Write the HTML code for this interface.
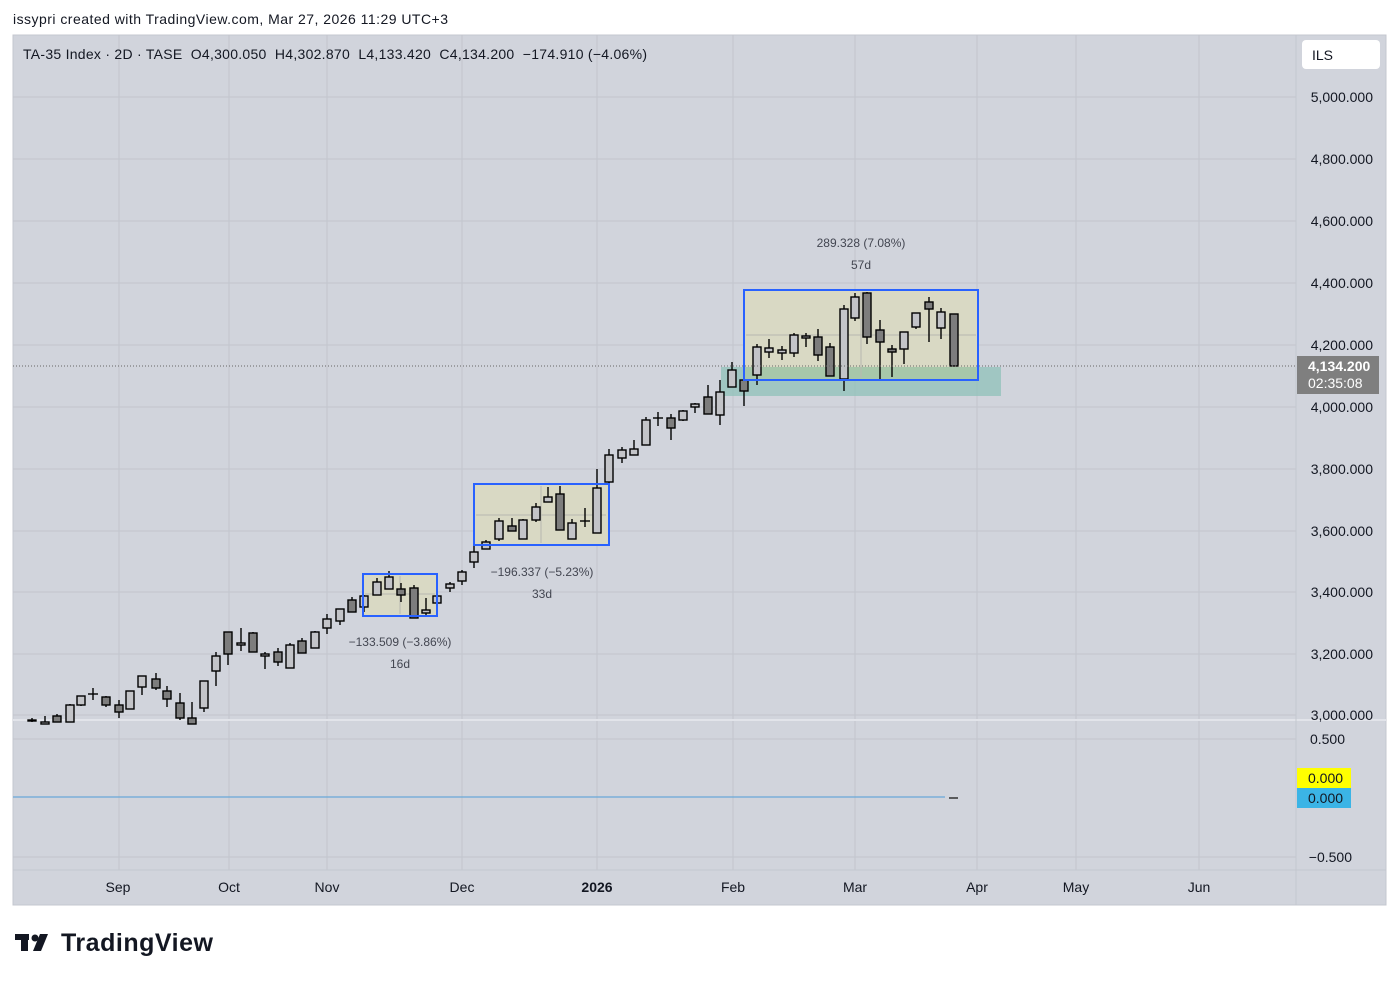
<!DOCTYPE html>
<html><head><meta charset="utf-8"><style>
body{margin:0;width:1399px;height:980px;background:#fff;overflow:hidden;font-family:"Liberation Sans",sans-serif}
</style></head><body>
<svg width="1399" height="980" xmlns="http://www.w3.org/2000/svg" font-family="Liberation Sans, sans-serif">
<text x="13" y="24" font-size="14" fill="#131722" textLength="435">issypri created with TradingView.com, Mar 27, 2026 11:29 UTC+3</text>
<rect x="13" y="35" width="1373" height="870" fill="#d1d4dc"/>
<rect x="13" y="35" width="1373" height="870" fill="none" stroke="#c4c7cf"/>
<g stroke="#c2c5cd" stroke-width="1">
<line x1="13" y1="97" x2="1296" y2="97"/><line x1="13" y1="159" x2="1296" y2="159"/><line x1="13" y1="221" x2="1296" y2="221"/><line x1="13" y1="283" x2="1296" y2="283"/><line x1="13" y1="345" x2="1296" y2="345"/><line x1="13" y1="407" x2="1296" y2="407"/><line x1="13" y1="469" x2="1296" y2="469"/><line x1="13" y1="531" x2="1296" y2="531"/><line x1="13" y1="592" x2="1296" y2="592"/><line x1="13" y1="654" x2="1296" y2="654"/><line x1="13" y1="715" x2="1296" y2="715"/>
<line x1="13" y1="739" x2="1296" y2="739"/><line x1="13" y1="857" x2="1296" y2="857"/>
<line x1="119" y1="35" x2="119" y2="870"/><line x1="229" y1="35" x2="229" y2="870"/><line x1="327" y1="35" x2="327" y2="870"/><line x1="462" y1="35" x2="462" y2="870"/><line x1="597" y1="35" x2="597" y2="870"/><line x1="733" y1="35" x2="733" y2="870"/><line x1="855" y1="35" x2="855" y2="870"/><line x1="977" y1="35" x2="977" y2="870"/><line x1="1076" y1="35" x2="1076" y2="870"/><line x1="1199" y1="35" x2="1199" y2="870"/>
</g>
<line x1="13" y1="720" x2="1386" y2="720" stroke="#e2e4ea" stroke-width="2"/>
<line x1="13" y1="870" x2="1386" y2="870" stroke="#c4c7cf"/>
<line x1="1296" y1="35" x2="1296" y2="905" stroke="#c4c7cf"/>
<rect x="721" y="367" width="280" height="29" fill="#8fc2b9" opacity="0.75"/>
<rect x="363" y="574" width="74" height="42" fill="#d9d9c4"/>
<rect x="474" y="484" width="135" height="61" fill="#d9d9c4"/>
<rect x="744" y="290" width="234" height="77" fill="#d9d9c4"/>
<rect x="744" y="367" width="234" height="13" fill="#a7c7aa"/>
<g stroke="#b8b8b0" fill="none"><line x1="476" y1="515" x2="606" y2="515"/><line x1="541" y1="486" x2="541" y2="543"/><line x1="746" y1="335" x2="976" y2="335"/><line x1="861" y1="292" x2="861" y2="378"/><line x1="365" y1="594" x2="435" y2="594"/><line x1="400" y1="576" x2="400" y2="614"/></g>
<g stroke="#000" stroke-width="1.4">
<line x1="32" y1="718" x2="32" y2="722"/><rect x="28" y="720" width="8" height="1" fill="#c3c4c8"/>
<line x1="45" y1="716" x2="45" y2="724"/><rect x="41" y="722" width="8" height="2" fill="#c3c4c8"/>
<line x1="57" y1="714" x2="57" y2="722"/><rect x="53" y="716" width="8" height="6" fill="#7d7d7d"/>
<line x1="70" y1="704" x2="70" y2="722"/><rect x="66" y="705" width="8" height="17" fill="#c3c4c8"/>
<line x1="81" y1="696" x2="81" y2="706"/><rect x="77" y="696" width="8" height="9" fill="#c3c4c8"/>
<line x1="93" y1="688" x2="93" y2="700"/><line x1="88" y1="694" x2="98" y2="694"/>
<line x1="106" y1="696" x2="106" y2="707"/><rect x="102" y="697" width="8" height="8" fill="#7d7d7d"/>
<line x1="119" y1="700" x2="119" y2="718"/><rect x="115" y="705" width="8" height="7" fill="#7d7d7d"/>
<line x1="130" y1="691" x2="130" y2="709"/><rect x="126" y="691" width="8" height="18" fill="#c3c4c8"/>
<line x1="142" y1="676" x2="142" y2="695"/><rect x="138" y="676" width="8" height="11" fill="#c3c4c8"/>
<line x1="156" y1="673" x2="156" y2="690"/><rect x="152" y="679" width="8" height="9" fill="#7d7d7d"/>
<line x1="167" y1="686" x2="167" y2="707"/><rect x="163" y="691" width="8" height="8" fill="#7d7d7d"/>
<line x1="180" y1="693" x2="180" y2="720"/><rect x="176" y="703" width="8" height="15" fill="#7d7d7d"/>
<line x1="192" y1="702" x2="192" y2="724"/><rect x="188" y="718" width="8" height="6" fill="#7d7d7d"/>
<line x1="204" y1="681" x2="204" y2="712"/><rect x="200" y="681" width="8" height="27" fill="#c3c4c8"/>
<line x1="216" y1="652" x2="216" y2="686"/><rect x="212" y="656" width="8" height="15" fill="#c3c4c8"/>
<line x1="228" y1="632" x2="228" y2="665"/><rect x="224" y="632" width="8" height="22" fill="#7d7d7d"/>
<line x1="241" y1="628" x2="241" y2="651"/><rect x="237" y="643" width="8" height="2" fill="#c3c4c8"/>
<line x1="253" y1="632" x2="253" y2="652"/><rect x="249" y="633" width="8" height="19" fill="#7d7d7d"/>
<line x1="265" y1="652" x2="265" y2="669"/><rect x="261" y="654" width="8" height="2" fill="#c3c4c8"/>
<line x1="278" y1="648" x2="278" y2="666"/><rect x="274" y="652" width="8" height="10" fill="#7d7d7d"/>
<line x1="290" y1="643" x2="290" y2="668"/><rect x="286" y="645" width="8" height="23" fill="#c3c4c8"/>
<line x1="302" y1="638" x2="302" y2="653"/><rect x="298" y="641" width="8" height="12" fill="#7d7d7d"/>
<line x1="315" y1="631" x2="315" y2="648"/><rect x="311" y="632" width="8" height="16" fill="#c3c4c8"/>
<line x1="327" y1="614" x2="327" y2="634"/><rect x="323" y="619" width="8" height="9" fill="#c3c4c8"/>
<line x1="340" y1="609" x2="340" y2="625"/><rect x="336" y="609" width="8" height="12" fill="#c3c4c8"/>
<line x1="352" y1="597" x2="352" y2="612"/><rect x="348" y="600" width="8" height="12" fill="#7d7d7d"/>
<line x1="364" y1="595" x2="364" y2="612"/><rect x="360" y="596" width="8" height="11" fill="#c3c4c8"/>
<line x1="377" y1="578" x2="377" y2="595"/><rect x="373" y="582" width="8" height="13" fill="#c3c4c8"/>
<line x1="389" y1="571" x2="389" y2="589"/><rect x="385" y="577" width="8" height="12" fill="#c3c4c8"/>
<line x1="401" y1="583" x2="401" y2="602"/><rect x="397" y="589" width="8" height="6" fill="#7d7d7d"/>
<line x1="414" y1="585" x2="414" y2="618"/><rect x="410" y="588" width="8" height="30" fill="#7d7d7d"/>
<line x1="426" y1="598" x2="426" y2="617"/><rect x="422" y="610" width="8" height="3" fill="#c3c4c8"/>
<line x1="437" y1="593" x2="437" y2="608"/><rect x="433" y="596" width="8" height="7" fill="#c3c4c8"/>
<line x1="450" y1="582" x2="450" y2="592"/><rect x="446" y="584" width="8" height="4" fill="#c3c4c8"/>
<line x1="462" y1="570" x2="462" y2="585"/><rect x="458" y="572" width="8" height="9" fill="#c3c4c8"/>
<line x1="474" y1="540" x2="474" y2="568"/><rect x="470" y="552" width="8" height="10" fill="#c3c4c8"/>
<line x1="486" y1="540" x2="486" y2="549"/><rect x="482" y="542" width="8" height="7" fill="#c3c4c8"/>
<line x1="499" y1="518" x2="499" y2="541"/><rect x="495" y="521" width="8" height="18" fill="#c3c4c8"/>
<line x1="512" y1="518" x2="512" y2="531"/><rect x="508" y="526" width="8" height="5" fill="#7d7d7d"/>
<line x1="523" y1="519" x2="523" y2="539"/><rect x="519" y="520" width="8" height="19" fill="#c3c4c8"/>
<line x1="536" y1="503" x2="536" y2="522"/><rect x="532" y="507" width="8" height="13" fill="#c3c4c8"/>
<line x1="548" y1="487" x2="548" y2="502"/><rect x="544" y="497" width="8" height="5" fill="#c3c4c8"/>
<line x1="560" y1="486" x2="560" y2="530"/><rect x="556" y="494" width="8" height="36" fill="#7d7d7d"/>
<line x1="572" y1="519" x2="572" y2="539"/><rect x="568" y="523" width="8" height="16" fill="#c3c4c8"/>
<line x1="585" y1="508" x2="585" y2="527"/><line x1="580" y1="521" x2="590" y2="521"/>
<line x1="597" y1="469" x2="597" y2="533"/><rect x="593" y="488" width="8" height="45" fill="#c3c4c8"/>
<line x1="609" y1="449" x2="609" y2="487"/><rect x="605" y="455" width="8" height="27" fill="#c3c4c8"/>
<line x1="622" y1="447" x2="622" y2="463"/><rect x="618" y="450" width="8" height="8" fill="#c3c4c8"/>
<line x1="634" y1="440" x2="634" y2="455"/><rect x="630" y="449" width="8" height="6" fill="#c3c4c8"/>
<line x1="646" y1="417" x2="646" y2="445"/><rect x="642" y="420" width="8" height="25" fill="#c3c4c8"/>
<line x1="658" y1="412" x2="658" y2="426"/><line x1="653" y1="418" x2="663" y2="418"/>
<line x1="671" y1="414" x2="671" y2="440"/><rect x="667" y="418" width="8" height="10" fill="#7d7d7d"/>
<line x1="683" y1="410" x2="683" y2="421"/><rect x="679" y="411" width="8" height="9" fill="#c3c4c8"/>
<line x1="695" y1="403" x2="695" y2="413"/><rect x="691" y="404" width="8" height="3" fill="#c3c4c8"/>
<line x1="708" y1="385" x2="708" y2="414"/><rect x="704" y="397" width="8" height="17" fill="#7d7d7d"/>
<line x1="720" y1="380" x2="720" y2="425"/><rect x="716" y="392" width="8" height="23" fill="#c3c4c8"/>
<line x1="732" y1="362" x2="732" y2="387"/><rect x="728" y="370" width="8" height="17" fill="#c3c4c8"/>
<line x1="744" y1="371" x2="744" y2="406"/><rect x="740" y="380" width="8" height="11" fill="#7d7d7d"/>
<line x1="757" y1="344" x2="757" y2="385"/><rect x="753" y="347" width="8" height="28" fill="#c3c4c8"/>
<line x1="769" y1="339" x2="769" y2="358"/><rect x="765" y="348" width="8" height="4" fill="#c3c4c8"/>
<line x1="782" y1="346" x2="782" y2="360"/><rect x="778" y="350" width="8" height="3" fill="#c3c4c8"/>
<line x1="794" y1="333" x2="794" y2="357"/><rect x="790" y="335" width="8" height="18" fill="#c3c4c8"/>
<line x1="806" y1="333" x2="806" y2="347"/><rect x="802" y="336" width="8" height="2" fill="#c3c4c8"/>
<line x1="818" y1="329" x2="818" y2="361"/><rect x="814" y="337" width="8" height="18" fill="#7d7d7d"/>
<line x1="830" y1="343" x2="830" y2="376"/><rect x="826" y="347" width="8" height="29" fill="#7d7d7d"/>
<line x1="844" y1="305" x2="844" y2="391"/><rect x="840" y="309" width="8" height="70" fill="#c3c4c8"/>
<line x1="855" y1="293" x2="855" y2="321"/><rect x="851" y="297" width="8" height="21" fill="#c3c4c8"/>
<line x1="867" y1="292" x2="867" y2="344"/><rect x="863" y="293" width="8" height="44" fill="#7d7d7d"/>
<line x1="880" y1="320" x2="880" y2="380"/><rect x="876" y="330" width="8" height="12" fill="#7d7d7d"/>
<line x1="892" y1="345" x2="892" y2="377"/><rect x="888" y="349" width="8" height="3" fill="#7d7d7d"/>
<line x1="904" y1="332" x2="904" y2="364"/><rect x="900" y="332" width="8" height="17" fill="#c3c4c8"/>
<line x1="916" y1="313" x2="916" y2="329"/><rect x="912" y="313" width="8" height="14" fill="#c3c4c8"/>
<line x1="929" y1="297" x2="929" y2="342"/><rect x="925" y="302" width="8" height="7" fill="#7d7d7d"/>
<line x1="941" y1="308" x2="941" y2="339"/><rect x="937" y="312" width="8" height="16" fill="#c3c4c8"/>
<rect x="950" y="314" width="8" height="52" fill="#7d7d7d"/>
</g>
<rect x="363" y="574" width="74" height="42" fill="none" stroke="#2962ff" stroke-width="2"/>
<rect x="474" y="484" width="135" height="61" fill="none" stroke="#2962ff" stroke-width="2"/>
<rect x="744" y="290" width="234" height="90" fill="none" stroke="#2962ff" stroke-width="2"/>
<line x1="13" y1="366" x2="1296" y2="366" stroke="#666" stroke-dasharray="1,2"/>
<g font-size="12" fill="#434651" text-anchor="middle">
<text x="400" y="646">−133.509 (−3.86%)</text><text x="400" y="668">16d</text>
<text x="542" y="576">−196.337 (−5.23%)</text><text x="542" y="598">33d</text>
<text x="861" y="247">289.328 (7.08%)</text><text x="861" y="269">57d</text>
</g>
<text x="23" y="59" font-size="14" fill="#131722" textLength="624" xml:space="preserve">TA-35 Index · 2D · TASE  O4,300.050  H4,302.870  L4,133.420  C4,134.200  −174.910 (−4.06%)</text>
<line x1="13" y1="797" x2="945" y2="797" stroke="#6aa8d8" stroke-width="1.2"/>
<line x1="949" y1="798" x2="958" y2="798" stroke="#333" stroke-width="1.5"/>
<rect x="1302" y="40" width="78" height="29" rx="4" fill="#fff"/>
<text x="1312" y="60" font-size="14" fill="#131722">ILS</text>
<g font-size="14" fill="#131722" text-anchor="end">
<text x="1373" y="102">5,000.000</text><text x="1373" y="164">4,800.000</text><text x="1373" y="226">4,600.000</text><text x="1373" y="288">4,400.000</text><text x="1373" y="350">4,200.000</text><text x="1373" y="412">4,000.000</text><text x="1373" y="474">3,800.000</text><text x="1373" y="536">3,600.000</text><text x="1373" y="597">3,400.000</text><text x="1373" y="659">3,200.000</text><text x="1373" y="720">3,000.000</text>
<text x="1345" y="744">0.500</text><text x="1352" y="862">−0.500</text>
</g>
<rect x="1297" y="356" width="82" height="38" fill="#7f7f7f"/>
<text x="1308" y="371" font-size="14" fill="#fff" font-weight="bold">4,134.200</text>
<text x="1308" y="388" font-size="14" fill="#fff">02:35:08</text>
<rect x="1297" y="768" width="54" height="20" fill="#ffff00"/>
<text x="1308" y="783" font-size="14" fill="#131722">0.000</text>
<rect x="1297" y="788" width="54" height="20" fill="#3bb4e6"/>
<text x="1308" y="803" font-size="14" fill="#131722">0.000</text>
<g font-size="14" fill="#131722" text-anchor="middle">
<text x="118" y="892">Sep</text><text x="229" y="892">Oct</text><text x="327" y="892">Nov</text><text x="462" y="892">Dec</text><text x="597" y="892" font-weight="bold">2026</text><text x="733" y="892">Feb</text><text x="855" y="892">Mar</text><text x="977" y="892">Apr</text><text x="1076" y="892">May</text><text x="1199" y="892">Jun</text>
</g>
<g fill="#131722"><rect x="15" y="934" width="14" height="6"/><rect x="21" y="934" width="7" height="17"/><circle cx="35" cy="938" r="3.5"/><polygon points="40,934 48,934 41,951 33,951"/></g>
<text x="61" y="951" font-size="25" font-weight="bold" fill="#131722" textLength="152">TradingView</text>
</svg>
</body></html>
